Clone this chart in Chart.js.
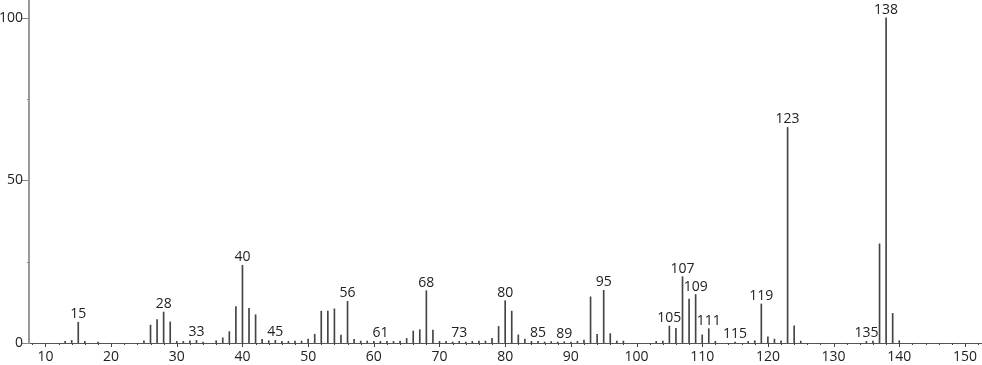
<!DOCTYPE html>
<html>
<head>
<meta charset="utf-8">
<script src="https://cdn.jsdelivr.net/npm/chart.js@4/dist/chart.umd.min.js"></script>
<style>
    html, body { margin: 0; padding: 0; background: #fff; }
    #wrap { width: 982px; height: 365px; }
</style>
</head>
<body>
<div id="wrap"><canvas id="spec"></canvas></div>
<script>
// m/z values and relative intensities
const mz = [13, 14, 15, 16, 18, 25, 26, 27, 28, 29, 30, 31, 32, 33, 34, 36, 37, 38, 39, 40,
    41, 42, 43, 44, 45, 46, 47, 48, 49, 50, 51, 52, 53, 54, 55, 56, 57, 58, 59, 60,
    61, 62, 63, 64, 65, 66, 67, 68, 69, 70, 71, 72, 73, 74, 75, 76, 77, 78, 79, 80,
    81, 82, 83, 84, 85, 86, 87, 88, 89, 90, 91, 92, 93, 94, 95, 96, 97, 98, 103, 104,
    105, 106, 107, 108, 109, 110, 111, 112, 115, 117, 118, 119, 120, 121, 122, 123, 124, 125,
    135, 136, 137, 138, 139, 140];
const intensity = [0.5, 0.8, 6.4, 0.5, 0.3, 0.7, 5.5, 7.2, 9.5, 6.5, 0.5, 0.5, 0.7, 0.8, 0.3, 0.7, 1.6, 3.5, 11.2, 23.9,
    10.7, 8.7, 1.1, 0.7, 0.8, 0.5, 0.5, 0.6, 0.6, 1.2, 2.7, 9.8, 9.8, 10.5, 2.4, 12.8, 1.1, 0.6, 0.6, 0.5,
    0.5, 0.5, 0.5, 0.6, 1.4, 3.7, 4.1, 16.1, 4.0, 0.5, 0.5, 0.3, 0.5, 0.3, 0.5, 0.6, 0.6, 1.4, 5.1, 13.0,
    9.8, 2.5, 1.2, 0.5, 0.5, 0.3, 0.4, 0.3, 0.4, 0.3, 0.5, 0.9, 14.2, 2.7, 16.2, 2.9, 0.6, 0.6, 0.5, 0.6,
    5.2, 4.5, 20.4, 13.5, 14.9, 2.5, 4.4, 0.5, 0.3, 0.5, 0.7, 12.0, 1.9, 1.2, 0.7, 66.3, 5.3, 0.6,
    0.5, 0.6, 30.5, 100, 9.1, 0.7];

// peaks that carry an m/z label
const labelled = [15, 28, 33, 40, 45, 56, 61, 68, 73, 80, 85, 89, 95, 105, 107, 109, 111, 115, 119, 123, 135, 138];

const xTicks = [10, 20, 30, 40, 50, 60, 70, 80, 90, 100, 110, 120, 130, 140, 150];
const yTicks = [0, 50, 100];

const FONT = '14px "Open Sans", sans-serif';
const TEXT = '#222';

const points = mz.map((m, i) => ({x: m, y: intensity[i]}));

// tick marks and peak labels, placed through the chart scales
const specPlugin = {
    id: 'spec',
    afterDraw(chart) {
        const ctx = chart.ctx;
        const xs = chart.scales.x, ys = chart.scales.y;
        const base = ys.getPixelForValue(0);
        const left = xs.left;
        ctx.save();

        // x ticks: every 2, longer at every 10
        ctx.strokeStyle = '#444';
        ctx.lineWidth = 1;
        for (let v = 8; v <= 152; v += 2) {
            const px = Math.round(xs.getPixelForValue(v)) + 0.5;
            ctx.beginPath();
            ctx.moveTo(px, base);
            ctx.lineTo(px, base + (v % 10 === 0 ? 4 : 2));
            ctx.stroke();
        }

        // y ticks
        ctx.strokeStyle = '#888';
        [0, 25, 50, 75, 100].forEach(v => {
            const py = Math.round(ys.getPixelForValue(v)) + 0.5;
            ctx.beginPath();
            ctx.moveTo(left - (v % 50 === 0 ? 7 : 2), py);
            ctx.lineTo(left, py);
            ctx.stroke();
        });

        // labels
        ctx.font = FONT;
        ctx.fillStyle = TEXT;
        ctx.textAlign = 'right';
        ctx.textBaseline = 'middle';
        yTicks.forEach(v => ctx.fillText(String(v), left - 6, ys.getPixelForValue(v)));

        ctx.textAlign = 'center';
        ctx.textBaseline = 'alphabetic';
        xTicks.forEach(v => ctx.fillText(String(v), xs.getPixelForValue(v), base + 18));

        labelled.forEach(m => {
            const val = intensity[mz.indexOf(m)];
            ctx.fillText(String(m), xs.getPixelForValue(m), ys.getPixelForValue(val) - 4);
        });
        ctx.restore();
    }
};

new Chart(document.getElementById('spec'), {
    type: 'bar',
    data: {
        datasets: [{
            data: points,
            backgroundColor: '#444',
            barThickness: 1,
            borderWidth: 0
        }]
    },
    options: {
        responsive: true,
        maintainAspectRatio: false,
        animation: false,
        layout: {padding: 0},
        plugins: {legend: {display: false}, tooltip: {enabled: false}},
        scales: {
            x: {
                type: 'linear',
                min: 7.5,
                max: 152.6,
                offset: false,
                grid: {display: false},
                border: {color: '#555', width: 1},
                ticks: {display: false},
                afterFit: s => { s.height = 22; }
            },
            y: {
                min: 0,
                max: 105.5,
                grid: {display: false},
                border: {color: '#999', width: 2},
                ticks: {display: false},
                afterFit: s => { s.width = 29; }
            }
        }
    },
    plugins: [specPlugin]
});
</script>
</body>
</html>
